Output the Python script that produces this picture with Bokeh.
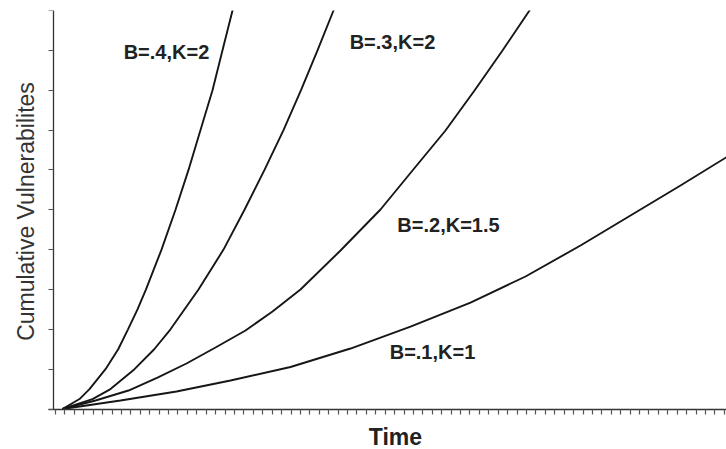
import math
from bokeh.plotting import figure
from bokeh.models import Range1d, FixedTicker, Label, CustomJSTickFormatter
from bokeh.embed import file_html
from bokeh.resources import INLINE

# Curves (x in time-tick units, y in vulnerability-tick units)
a_x = [0.743, 2.548, 3.609, 5.308, 6.656, 7.696, 8.705, 9.607, 11.253, 12.739, 14.119, 15.393, 16.667, 17.728, 18.790, 19.108]
a_y = [0.0, 0.25, 0.5, 1.0, 1.5, 2.0, 2.5, 3.0, 4.0, 5.0, 6.0, 7.0, 8.0, 9.0, 10.0, 10.3]
a_label = "B=.4,K=2"

b_x = [0.743, 3.928, 5.839, 8.386, 10.478, 12.208, 15.180, 17.834, 20.064, 22.187, 24.204, 26.062, 27.813, 29.512, 29.830]
b_y = [0.0, 0.25, 0.5, 1.0, 1.5, 2.0, 3.0, 4.0, 5.0, 6.0, 7.0, 8.0, 9.0, 10.0, 10.25]
b_label = "B=.3,K=2"

c_x = [0.743, 4.246, 7.749, 10.828, 13.907, 16.985, 20.170, 23.036, 26.008, 30.255, 34.501, 37.898, 41.401, 44.480, 47.452, 50.318, 50.849]
c_y = [0.0, 0.213, 0.464, 0.790, 1.142, 1.543, 1.970, 2.447, 2.999, 3.977, 5.006, 5.985, 6.989, 7.992, 8.996, 10.0, 10.2]
c_label = "B=.2,K=1.5"

d_x = [0.743, 6.900, 12.845, 18.577, 24.947, 31.316, 37.686, 44.055, 49.894, 55.732, 61.040, 66.348, 71.231]
d_y = [0.0, 0.213, 0.439, 0.715, 1.054, 1.518, 2.070, 2.672, 3.325, 4.103, 4.856, 5.609, 6.319]
d_label = "B=.1,K=1"

x_ticks = list(range(0, 72))
y_ticks = list(range(0, 11))
x_title = "Time"
y_title = "Cumulative Vulnerabilites"

p = figure(width=726, height=449, output_backend="svg", toolbar_location=None,
           x_range=Range1d(-5.839, 71.23), y_range=Range1d(-1.016, 10),
           min_border_left=0, min_border_right=0, min_border_top=10, min_border_bottom=0)
p.outline_line_color = None
p.xgrid.visible = False
p.ygrid.visible = False
p.background_fill_color = "white"
p.border_fill_color = "white"

for ax, ticks in ((p.xaxis[0], x_ticks), (p.yaxis[0], y_ticks)):
    ax.ticker = FixedTicker(ticks=ticks)
    ax.formatter = CustomJSTickFormatter(code="return ''")
    ax.major_label_text_font_size = "0px"
    ax.major_label_standoff = 0
    ax.minor_tick_line_color = None
    ax.major_tick_in = 0
    ax.major_tick_out = 5
    ax.axis_line_color = "#333333"
    ax.axis_line_width = 1.3
    ax.major_tick_line_color = "#555555"
    ax.major_tick_line_width = 1.2

p.xaxis[0].fixed_location = 0
p.xaxis[0].bounds = (-0.743, 71.23)
p.yaxis[0].fixed_location = -0.212
p.yaxis[0].bounds = (0, 10)

for xs, ys in ((a_x, a_y), (b_x, b_y), (c_x, c_y), (d_x, d_y)):
    p.line(xs, ys, line_color="#161616", line_width=1.9)

label_pos = [(a_label, 11.78, 8.95), (b_label, 35.77, 9.22), (c_label, 41.72, 4.63), (d_label, 40.02, 1.42)]
for txt, lx, ly in label_pos:
    p.add_layout(Label(x=lx, y=ly, text=txt, text_font="Liberation Sans", text_font_style="bold",
                       text_font_size="20px", text_color="#222222", text_align="center",
                       text_baseline="middle"))

p.add_layout(Label(x=36.09, y=-0.69, text=x_title, text_font="Liberation Sans", text_font_style="bold",
                   text_font_size="23px", text_color="#222222", text_align="center",
                   text_baseline="middle"))
p.add_layout(Label(x=-3.185, y=4.956, text=y_title, text_font="Liberation Sans",
                   text_font_size="23px", text_color="#333333", text_align="center",
                   text_baseline="middle", angle=math.pi / 2))

open("out.html", "w").write(file_html(p, INLINE))
